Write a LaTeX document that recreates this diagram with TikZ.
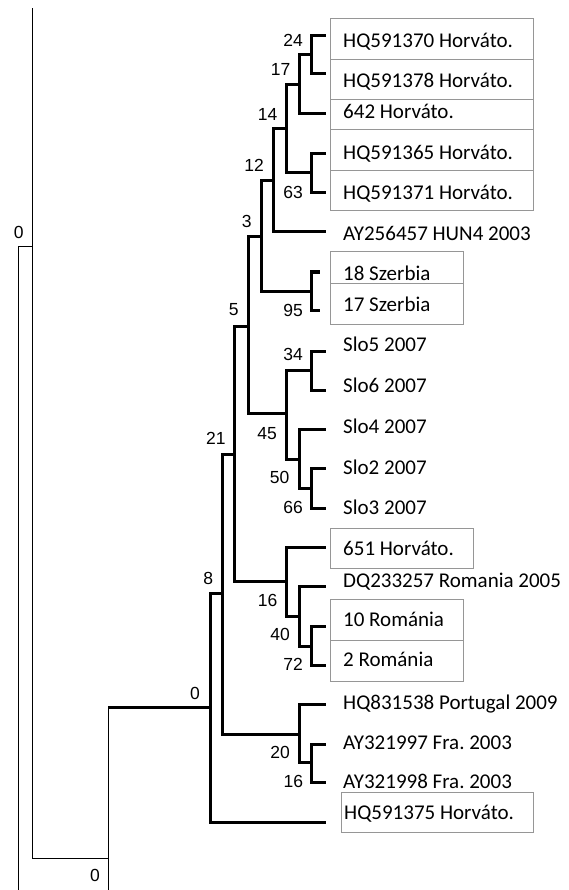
\documentclass[tikz,border=0pt]{standalone}
\usepackage{fontspec}
\usepackage{tikz}
\usetikzlibrary{positioning}
\newfontfamily\leaffont{Carlito}
\newfontfamily\bootfont{Liberation Sans}
\definecolor{boxgray}{RGB}{150,150,150}
\frenchspacing

\tikzset{
  branch/.style={line width=3pt},
  stem/.style={line width=1pt},
  tagbox/.style={draw=boxgray, line width=1pt},
  leaf/.style={font=\leaffont\fontsize{21}{25}\selectfont, anchor=base west, inner sep=0pt},
  boot/.style={font=\bootfont\fontsize{17.5}{20}\selectfont, inner sep=0pt}
}

\begin{document}
\begin{tikzpicture}[x=1pt, y=-1pt]
    \useasboundingbox (0,0) rectangle (568,890);

    % boxes round the strains
    \foreach \ya/\yb in {19/60, 60/100, 100/130, 130/171, 171/211} {
      \draw[tagbox] (330,\ya) rectangle (533,\yb);
    }
    \foreach \ya/\yb in {252/283, 283/324, 599/640, 640/681} {
      \draw[tagbox] (330,\ya) rectangle (463,\yb);
    }
    \draw[tagbox] (330,528) rectangle (473,568);
    \draw[tagbox] (341,792) rectangle (533,832);

    % leaf tips
    \coordinate (t1) at (326,36);
    \coordinate (t2) at (326,74);
    \coordinate (t3) at (326,114);
    \coordinate (t4) at (326,154);
    \coordinate (t5) at (326,193);
    \coordinate (t6) at (326,232);
    \coordinate (t7) at (320,272);
    \coordinate (t8) at (320,310);
    \coordinate (t9) at (326,351);
    \coordinate (t10) at (326,390);
    \coordinate (t11) at (326,429);
    \coordinate (t12) at (326,468);
    \coordinate (t13) at (326,508);
    \coordinate (t14) at (326,547);
    \coordinate (t15) at (326,586);
    \coordinate (t16) at (326,626);
    \coordinate (t17) at (326,665);
    \coordinate (t18) at (326,704);
    \coordinate (t19) at (326,744);
    \coordinate (t20) at (326,782);
    \coordinate (t21) at (326,822);

    % inner nodes
    \coordinate (n24) at (311,55);
    \coordinate (n17) at (299,85);
    \coordinate (n63) at (311,173);
    \coordinate (n14) at (286,129);
    \coordinate (n12) at (273,181);
    \coordinate (n95) at (311,291);
    \coordinate (n3) at (261,237);
    \coordinate (n34) at (311,370);
    \coordinate (n66) at (311,488);
    \coordinate (n50) at (299,459);
    \coordinate (n45) at (286,413);
    \coordinate (n5) at (248,326);
    \coordinate (n72) at (311,646);
    \coordinate (n40) at (299,616);
    \coordinate (n16a) at (286,581);
    \coordinate (n21) at (234,454);
    \coordinate (n16b) at (311,762);
    \coordinate (n20) at (299,734);
    \coordinate (n8) at (222,593);
    \coordinate (n0a) at (210,707);
    \coordinate (n0b) at (108,858);
    \coordinate (n0c) at (32,247);
    \coordinate (root) at (18,890);
    \coordinate (up) at (32,8);
    \coordinate (down) at (108,890);

    % thick branches
    \foreach \p/\c in {n24/t1, n24/t2, n17/n24, n17/t3, n63/t4, n63/t5,
                       n14/n17, n14/n63, n12/n14, n12/t6, n95/t7, n95/t8,
                       n3/n12, n3/n95, n34/t9, n34/t10, n66/t12, n66/t13,
                       n50/t11, n50/n66, n45/n34, n45/n50, n5/n3, n5/n45,
                       n72/t16, n72/t17, n40/t15, n40/n72, n16a/t14, n16a/n40,
                       n21/n5, n21/n16a, n16b/t19, n16b/t20, n20/t18, n20/n16b,
                       n8/n21, n8/n20, n0a/n8, n0a/t21} {
      \draw[branch] (\p) |- (\c);
    }
    \draw[branch] (n0b |- n0a) -- (n0a);

    % thin stems
    \draw[stem] (n0b) -- (n0b |- n0a);
    \draw[stem] (n0b) -- (down);
    \draw[stem] (n0c) |- (n0b);
    \draw[stem] (n0c) -- (up);
    \draw[stem] (root) |- (n0c);

    % strain names
    \node[leaf] (l1) at (343,47.7) {HQ591370 Horváto.};
    \node[leaf] (l2) at (343,87.7) {HQ591378 Horváto.};
    \node[leaf] (l3) at (343,119) {642 Horváto.};
    \node[leaf] (l4) at (343,159.3) {HQ591365 Horváto.};
    \node[leaf] (l5) at (343,199.3) {HQ591371 Horváto.};
    \node[leaf] (l6) at (343,240.7) {AY256457 HUN4 2003};
    \node[leaf] (l7) at (343,280.7) {18 Szerbia};
    \node[leaf] (l8) at (343,311.7) {17 Szerbia};
    \node[leaf] (l9) at (343,351.7) {Slo5 2007};
    \node[leaf] (l10) at (343,392.3) {Slo6 2007};
    \node[leaf] (l11) at (343,433.3) {Slo4 2007};
    \node[leaf] (l12) at (343,474) {Slo2 2007};
    \node[leaf] (l13) at (343,514.3) {Slo3 2007};
    \node[leaf] (l14) at (343,555) {651 Horváto.};
    \node[leaf] (l15) at (343,587.3) {DQ233257 Romania 2005};
    \node[leaf] (l16) at (343,626) {10 Románia};
    \node[leaf] (l17) at (343,666.7) {2 Románia};
    \node[leaf] (l18) at (343,709) {HQ831538 Portugal 2009};
    \node[leaf] (l19) at (343,749) {AY321997 Fra. 2003};
    \node[leaf] (l20) at (343,788.3) {AY321998 Fra. 2003};
    \node[leaf] (l21) at (344,819.3) {HQ591375 Horváto.};

    % bootstrap values
    \node[boot] (b24) at (293,40.5) {24};
    \node[boot] (b17) at (280.5,69.5) {17};
    \node[boot] (b14) at (267.5,114) {14};
    \node[boot] (b12) at (254,165.5) {12};
    \node[boot] (b63) at (293,192) {63};
    \node[boot] (b3) at (246.7,221.3) {3};
    \node[boot] (b95) at (293,310) {95};
    \node[boot] (b5) at (233.8,309.7) {5};
    \node[boot] (b34) at (293,354.8) {34};
    \node[boot] (b45) at (267,433.3) {45};
    \node[boot] (b21) at (215.8,438.2) {21};
    \node[boot] (b50) at (279.7,477) {50};
    \node[boot] (b66) at (293,507) {66};
    \node[boot] (b8) at (208.3,578.7) {8};
    \node[boot] (b16a) at (267.5,600) {16};
    \node[boot] (b40) at (280,634) {40};
    \node[boot] (b72) at (293,664) {72};
    \node[boot] (b0a) at (195,693) {0};
    \node[boot] (b20) at (280,752.5) {20};
    \node[boot] (b16b) at (293.3,781.8) {16};
    \node[boot] (b0c) at (18.8,232.5) {0};
    \node[boot] (b0b) at (95,875.8) {0};
\end{tikzpicture}
\end{document}
